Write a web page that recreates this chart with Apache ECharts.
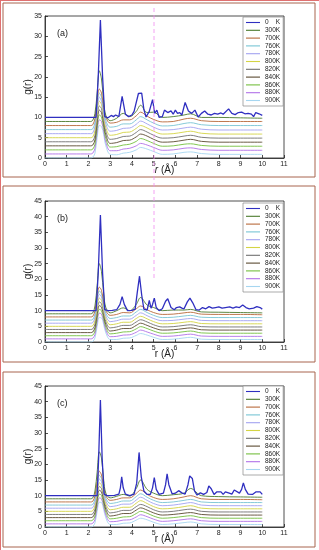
<!DOCTYPE html>
<html><head><meta charset="utf-8">
<script src="https://cdn.jsdelivr.net/npm/echarts@6/dist/echarts.min.js"></script>
<style>html,body{margin:0;padding:0;background:#fff}#c{width:319px;height:550px}</style>
</head><body><div id="c"></div>
<script>
// ---------- data ----------
const TEMPS = ['0    K','300K','700K','760K','780K','800K','820K','840K','860K','880K','900K'];
const COLORS = ['#2f2fc0','#4b7a2c','#b8693a','#78c4d4','#a2a2f0','#d4d444','#707070','#5a4a30','#74bf3e','#b070e8','#a6d6f0'];
const X_TICKS = [0,1,2,3,4,5,6,7,8,9,10,11];
const PANEL_LABELS = ['(a)','(b)','(c)'];
const Y_MAX = [35,45,45];
// r grid shared by the warm (liquid-like) curves
const R = [0,2.1,2.2,2.3,2.4,2.5,2.6,2.7,2.8,3.0,3.3,3.6,3.9,4.2,4.4,4.7,5.0,5.4,5.9,6.4,6.7,7.2,8.0,9.0,10.0];

// 0 K curves: [r, shifted g(r)]
const A_0K = [[0,10],[2.35,10],[2.45,20],[2.55,34],[2.65,20],[2.75,10.2],[2.9,9.9],[3.05,10.5],[3.15,10.2],[3.25,10.6],[3.4,10.2],[3.55,15.2],[3.7,10.8],[3.85,10.2],[4.0,10.6],[4.1,11.5],[4.3,15.9],[4.45,16],[4.55,12],[4.65,10.1],[4.8,11.5],[4.95,14.4],[5.05,11],[5.15,11.8],[5.25,10],[5.4,10.2],[5.5,11.8],[5.65,11.2],[5.8,11.6],[5.9,10.8],[6.0,11.8],[6.1,11],[6.2,11.2],[6.3,10.6],[6.45,13.7],[6.6,11.6],[6.75,11],[6.9,11.8],[7.05,10.1],[7.2,11],[7.35,11.6],[7.5,10.8],[7.65,10.6],[7.8,11],[7.95,10.8],[8.1,11.1],[8.2,10.8],[8.45,12.1],[8.6,11],[8.75,10.7],[8.9,11.2],[9.05,11.3],[9.2,10.9],[9.35,11],[9.5,10.8],[9.6,10.2],[9.7,11.2],[9.85,10.9],[10,10.5]];
const B_0K = [[0,10],[2.35,10],[2.45,22],[2.55,40.5],[2.65,22],[2.75,10.3],[2.9,10],[3.1,10.1],[3.3,10.3],[3.45,12],[3.55,14.5],[3.65,12],[3.8,10],[4.0,10.1],[4.15,10.5],[4.25,16],[4.35,21],[4.45,15],[4.55,10.5],[4.7,10.2],[4.8,13.3],[4.88,10.8],[4.95,12],[5.03,14],[5.12,11],[5.25,10],[5.4,10.6],[5.55,13],[5.65,13.8],[5.8,11],[5.95,10.3],[6.05,11],[6.2,11.2],[6.3,10.8],[6.4,10.6],[6.55,12.8],[6.67,14],[6.8,12.5],[6.95,10.3],[7.1,10.2],[7.25,11],[7.4,10.6],[7.55,11.3],[7.7,10.8],[7.85,11],[8.0,11.2],[8.15,10.8],[8.3,11],[8.5,11.2],[8.65,10.8],[8.8,11.2],[8.95,11],[9.1,11.8],[9.25,11],[9.4,10.6],[9.6,10.8],[9.75,11.3],[9.9,11],[10,10.5]];
const C_0K = [[0,10],[2.4,10],[2.47,22],[2.55,40.5],[2.63,22],[2.72,10.5],[2.85,10],[3.0,10],[3.2,10.1],[3.4,10.5],[3.47,12.5],[3.53,16],[3.6,12.5],[3.7,10.5],[3.9,10],[4.1,10.5],[4.22,14],[4.33,23.8],[4.43,16],[4.55,11.5],[4.7,10.4],[4.85,10.4],[4.95,12.5],[5.03,15.8],[5.12,12],[5.25,10.4],[5.45,10.8],[5.55,13.5],[5.62,17],[5.7,13.5],[5.85,10.6],[6.0,10.8],[6.15,11.6],[6.3,10.9],[6.45,10.5],[6.58,13.5],[6.66,16.3],[6.78,15.5],[6.88,11.5],[7.0,10.2],[7.15,10.9],[7.3,10.4],[7.45,11],[7.54,13.1],[7.65,12.2],[7.78,10.4],[7.9,11.2],[7.98,11.8],[8.1,11.2],[8.2,10.4],[8.3,11.2],[8.36,11.6],[8.48,10.8],[8.6,10.5],[8.71,11.8],[8.8,11.2],[8.95,10.8],[9.05,12],[9.13,14.1],[9.22,12],[9.35,10.5],[9.55,10.4],[9.7,11.2],[9.79,11.7],[9.9,11.2],[10,10.4]];

// warm curves (shifted g(r) on grid R), panel (a)
const A_300 = [9,9,9.3,11,16,21.5,19.5,14,10.5,9.2,9.8,11.0,10.2,11.5,13.0,11.2,11.3,10.0,10.2,10.6,10.9,10.0,10.0,9.9,9.8];
const A_700 = [8,8,8.2,9.8,14,17,16,12.5,10,8.6,8.8,9.4,9.4,10.4,11.3,10.3,9.5,8.9,9.0,9.6,9.8,9.2,9.0,9.0,9.0];
const A_760 = [7,7,7.2,8.8,13,16,15,11.8,9.2,7.6,7.8,8.4,8.4,9.4,10.2,9.4,8.6,7.9,8.0,8.5,8.7,8.2,8.0,8.0,8.0];
const A_780 = [6,6,6.2,7.8,12,15,14,11,8.4,6.6,6.8,7.3,7.4,8.3,9.1,8.4,7.6,6.9,7.0,7.4,7.6,7.1,6.9,6.9,6.9];
const A_800 = [5,5,5.2,6.8,11,14,13.2,10.2,7.5,5.6,5.8,6.3,6.4,7.3,8.0,7.4,6.6,5.9,6.0,6.4,6.6,6.1,5.9,5.9,5.9];
const A_820 = [4,4,4.2,5.6,9.8,12.8,12.2,9.3,6.6,4.6,4.8,5.3,5.4,6.3,7.0,6.4,5.6,4.9,5.0,5.4,5.6,5.1,4.9,4.9,4.9];
const A_840 = [3,3,3.2,4.5,8.7,11.8,11.2,8.4,5.7,3.6,3.8,4.3,4.4,5.2,5.9,5.4,4.6,3.9,4.0,4.4,4.6,4.1,3.9,3.9,3.9];
const A_860 = [2,2,2.2,3.4,7.5,10.6,10.1,7.5,4.8,2.7,2.8,3.2,3.4,4.1,4.8,4.3,3.6,2.9,3.0,3.4,3.5,3.1,2.9,2.9,2.9];
const A_880 = [1,1,1.2,2.4,6.4,9.4,9.0,6.6,3.9,1.8,1.8,2.2,2.4,3.0,3.6,3.2,2.6,1.9,2.0,2.4,2.5,2.1,1.9,1.9,1.9];
const A_900 = [0,0,0.2,1.2,5,8,7.8,5.8,3.0,0.9,0.8,1.2,1.4,2.0,2.6,2.2,1.6,0.9,1.0,1.4,1.5,1.1,0.9,0.9,0.9];

// panel (b)
const B_300 = [9,9,9.3,11.5,18,25,22.5,15.5,11,9.3,10.0,10.9,10.0,12.0,14.2,11.8,11.0,10.0,10.2,10.2,10.4,9.6,9.5,9.4,9.3];
const B_700 = [8,8,8.2,10,14.5,17.5,16.5,12.8,10,8.5,8.8,9.4,9.3,10.6,11.5,10.3,9.4,8.8,8.9,9.3,9.5,8.9,8.8,8.8,8.7];
const B_760 = [7,7,7.2,8.9,13.3,16.3,15.4,12,9.2,7.5,7.8,8.3,8.3,9.6,10.4,9.4,8.5,7.8,7.9,8.3,8.5,7.9,7.8,7.8,7.8];
const B_780 = [6,6,6.2,7.9,12.2,15.2,14.4,11.1,8.3,6.5,6.8,7.3,7.3,8.5,9.3,8.4,7.5,6.8,6.9,7.3,7.5,6.9,6.8,6.8,6.8];
const B_800 = [5,5,5.2,6.8,11,14,13.3,10.2,7.4,5.5,5.8,6.3,6.3,7.5,8.2,7.4,6.5,5.8,5.9,6.3,6.5,5.9,5.8,5.8,5.8];
const B_820 = [4,4,4.2,5.7,9.9,12.8,12.2,9.3,6.5,4.5,4.8,5.3,5.3,6.4,7.1,6.4,5.5,4.8,4.9,5.3,5.5,4.9,4.8,4.8,4.8];
const B_840 = [3,3,3.2,4.6,8.7,11.6,11.1,8.4,5.6,3.5,3.8,4.3,4.3,5.3,6.0,5.3,4.5,3.8,3.9,4.3,4.5,3.9,3.8,3.8,3.8];
const B_860 = [2,2,2.2,3.5,7.5,10.4,10,7.4,4.7,2.6,2.8,3.2,3.3,4.2,4.9,4.3,3.5,2.8,2.9,3.3,3.5,2.9,2.8,2.8,2.8];
const B_880 = [1,1,1.2,2.4,6.3,9.2,8.9,6.5,3.8,1.7,1.8,2.2,2.3,3.1,3.8,3.2,2.5,1.8,1.9,2.3,2.5,1.9,1.8,1.8,1.8];
const B_900 = [0,0,0.2,1.3,5,7.8,7.7,5.6,2.9,0.8,0.8,1.2,1.3,2.1,2.7,2.2,1.5,0.8,0.9,1.3,1.5,0.9,0.8,0.8,0.8];

// panel (c)
const C_300 = [9,9,9.3,11.5,17.5,24,22,15,10.8,9.3,9.8,10.4,9.9,12.3,15.0,12.0,10.8,10.0,10.3,10.8,12.3,10.0,9.7,9.6,9.5];
const C_700 = [8,8,8.2,10,14.5,17.8,16.6,12.8,10,8.5,8.8,9.3,9.3,10.7,11.8,10.4,9.4,8.8,9.0,9.6,10.0,9.0,8.8,8.8,8.7];
const C_760 = [7,7,7.2,8.9,13.3,16.5,15.5,12,9.2,7.5,7.8,8.3,8.3,9.7,10.6,9.5,8.5,7.8,8.0,8.5,8.8,8.0,7.8,7.8,7.8];
const C_780 = [6,6,6.2,7.9,12.2,15.3,14.5,11.1,8.3,6.5,6.8,7.3,7.3,8.6,9.5,8.5,7.5,6.8,7.0,7.5,7.8,7.0,6.8,6.8,6.8];
const C_800 = [5,5,5.2,6.8,11,14.1,13.4,10.2,7.4,5.5,5.8,6.3,6.3,7.6,8.4,7.5,6.5,5.8,6.0,6.5,6.8,6.0,5.8,5.8,5.8];
const C_820 = [4,4,4.2,5.7,9.9,12.9,12.3,9.3,6.5,4.5,4.8,5.3,5.3,6.5,7.2,6.5,5.5,4.8,5.0,5.5,5.7,5.0,4.8,4.8,4.8];
const C_840 = [3,3,3.2,4.6,8.7,11.7,11.2,8.4,5.6,3.5,3.8,4.3,4.3,5.4,6.1,5.4,4.5,3.8,4.0,4.4,4.6,4.0,3.8,3.8,3.8];
const C_860 = [2,2,2.2,3.5,7.5,10.5,10.1,7.4,4.7,2.6,2.8,3.2,3.3,4.3,5.0,4.4,3.5,2.8,3.0,3.4,3.6,3.0,2.8,2.8,2.8];
const C_880 = [1,1,1.2,2.4,6.3,9.3,9.0,6.5,3.8,1.7,1.8,2.2,2.3,3.2,3.9,3.3,2.5,1.8,2.0,2.4,2.6,2.0,1.8,1.8,1.8];
const C_900 = [0,0,0.2,1.3,5,7.9,7.8,5.6,2.9,0.8,0.8,1.2,1.3,2.2,2.8,2.3,1.5,0.8,1.0,1.4,1.6,1.0,0.8,0.8,0.8];

const PANELS = [
  {cold:A_0K, warm:[A_300,A_700,A_760,A_780,A_800,A_820,A_840,A_860,A_880,A_900]},
  {cold:B_0K, warm:[B_300,B_700,B_760,B_780,B_800,B_820,B_840,B_860,B_880,B_900]},
  {cold:C_0K, warm:[C_300,C_700,C_760,C_780,C_800,C_820,C_840,C_860,C_880,C_900]}
];

// ---------- layout ----------
const FONT = 'Liberation Sans, Arial, Helvetica, sans-serif';
const GRID_TOPS = [16,201,386];
const GRID_H = [142,141,141];
const LEGEND_TOPS = [17,203,386];
const BOXES = [[3,3,312,174],[3,186,312,176],[3,372,312,175]];

const grids=[], xAxes=[], yAxes=[], series=[], legends=[], graphics=[];
PANELS.forEach((p,pi)=>{
  grids.push({left:45, top:GRID_TOPS[pi], width:239, height:GRID_H[pi], show:true, borderColor:'#222', borderWidth:0.8, backgroundColor:'#fff'});
  xAxes.push({type:'value', gridIndex:pi, min:X_TICKS[0], max:X_TICKS[X_TICKS.length-1], interval:1,
    axisLine:{show:true,onZero:false,lineStyle:{color:'#222',width:0.8}},
    axisTick:{inside:true,length:3,lineStyle:{color:'#222',width:0.8}},
    axisLabel:{fontSize:7,color:'#222',margin:3,fontFamily:FONT},
    splitLine:{show:false},
    name: pi===0 ? '{i|r} (Å)' : 'r (Å)', nameLocation:'middle', nameGap:7, nameMoveOverlap:false,
    nameTextStyle:{fontSize:10,color:'#222',fontFamily:FONT,rich:{i:{fontStyle:'italic',fontSize:10,fontFamily:FONT,color:'#222'}}}
  });
  yAxes.push({type:'value', gridIndex:pi, min:0, max:Y_MAX[pi], interval:5,
    axisLine:{show:true,lineStyle:{color:'#222',width:0.8}},
    axisTick:{inside:true,length:3,lineStyle:{color:'#222',width:0.8}},
    axisLabel:{fontSize:7,color:'#222',margin:3,fontFamily:FONT},
    splitLine:{show:false},
    name:'g(r)', nameLocation:'middle', nameGap:12, nameRotate:90, nameMoveOverlap:false,
    nameTextStyle:{fontSize:10,color:'#222',fontFamily:FONT}
  });
  series.push({type:'line', name:TEMPS[0], xAxisIndex:pi, yAxisIndex:pi, data:p.cold, symbol:'none',
    lineStyle:{color:COLORS[0],width:1.3}, itemStyle:{color:COLORS[0]}, z:5, animation:false});
  p.warm.forEach((vals,wi)=>{
    series.push({type:'line', name:TEMPS[wi+1], xAxisIndex:pi, yAxisIndex:pi,
      data:R.map((r,i)=>[r,vals[i]]), symbol:'none', smooth:0.35,
      lineStyle:{color:COLORS[wi+1],width:0.9}, itemStyle:{color:COLORS[wi+1]}, z:4-wi*0.1, animation:false});
  });
  legends.push({left:243, top:LEGEND_TOPS[pi], orient:'vertical', data:TEMPS,
    icon:'path://M0,0L14,0L14,1.1L0,1.1Z', symbolKeepAspect:true,
    itemWidth:14, itemHeight:6, itemGap:0.8, padding:[2,3,2,3],
    backgroundColor:'#fff', borderColor:'#888', borderWidth:0.7, borderRadius:0,
    textStyle:{fontSize:6.5,color:'#222',fontFamily:FONT,lineHeight:6}, selectedMode:false});
  const b=BOXES[pi];
  graphics.push({type:'rect', shape:{x:b[0],y:b[1],width:b[2],height:b[3]}, style:{fill:'none',stroke:'#a8644f',lineWidth:1}, z:-1});
  graphics.push({type:'text', left:57, top:GRID_TOPS[pi]+13, style:{text:PANEL_LABELS[pi], fontSize:9, fill:'#222', fontFamily:FONT}, z:10});
});
graphics.push({type:'line', shape:{x1:0.5,y1:0,x2:0.5,y2:550}, style:{stroke:'#e07070',lineWidth:1}});
graphics.push({type:'line', shape:{x1:0,y1:0.5,x2:319,y2:0.5}, style:{stroke:'#e07070',lineWidth:1}});
// scan artifact: faint dashed magenta vertical line
graphics.push({type:'line', shape:{x1:154,y1:8,x2:154,y2:278}, style:{stroke:'#f08cf0',lineWidth:0.8,lineDash:[4,3]}, z:20});

const chart = echarts.init(document.getElementById('c'), null, {renderer:'canvas'});
chart.setOption({animation:false, backgroundColor:'#fff', grid:grids, xAxis:xAxes, yAxis:yAxes, series:series, legend:legends, graphic:graphics});
</script></body></html>
